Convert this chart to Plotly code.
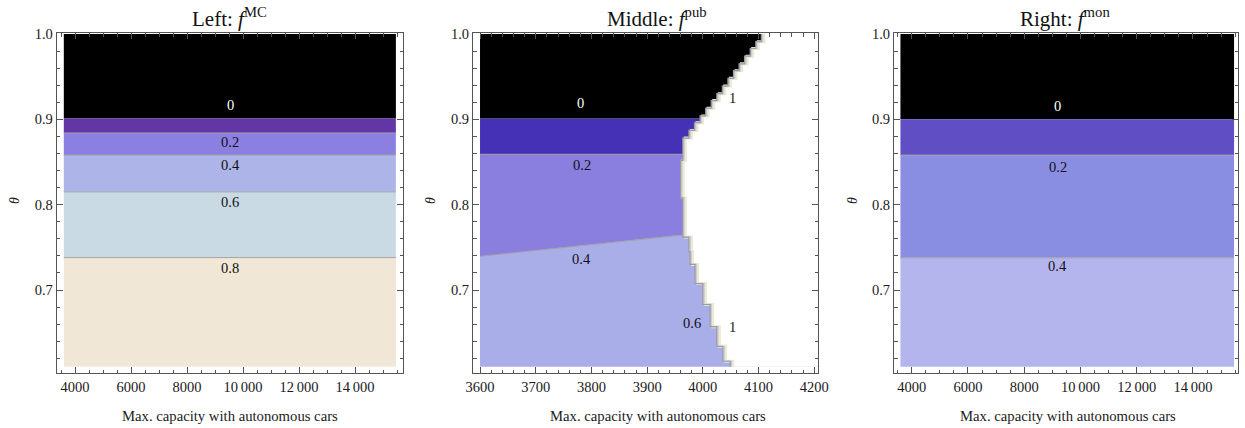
import plotly.graph_objects as go

# ------------------------------------------------------------------ data
theta_lo, theta_hi = 0.61, 1.0
cap_lo_lr, cap_hi_lr = 3600, 15460          # left / right panels
cap_lo_mid, cap_hi_mid = 3600, 4215         # middle panel

# Left: f^MC  (horizontal bands, edges in theta)
left_edges = [1.0, 0.901, 0.884, 0.858, 0.815, 0.738, 0.61]
left_colors = ["#000000", "#6236A6", "#8C7FE2", "#ADB4E8", "#C9DAE5", "#F0E7D6"]
left_lines = [0.884, 0.858, 0.815, 0.738]
left_labels = ["0", "0.2", "0.4", "0.6", "0.8"]
left_label_theta = [0.917, 0.873, 0.8465, 0.803, 0.726]

# Right: f^mon
right_edges = [1.0, 0.9, 0.858, 0.7377, 0.61]
right_colors = ["#000000", "#604EC4", "#8A8EE3", "#B5B5EE"]
right_lines = [0.858, 0.7377]
right_labels = ["0", "0.2", "0.4"]
right_label_theta = [0.916, 0.8445, 0.728]

# Middle: f^pub
mid_black_lo = 0.901
mid_blue_lo = 0.859
mid_colors = {"black": "#000000", "blue": "#4431B6", "b02": "#8A7EDE", "b04": "#A9AEE8"}
# boundary between 0.2 and 0.4 regions
mid_split_cap = [3600, 3947, 3975]
mid_split_theta = [0.7395, 0.7638, 0.765]
# staircase limit of the f^pub = 1 region: cap_i holds between theta_i and theta_{i+1}
mid_step_theta = [1.000, 0.991, 0.983, 0.974, 0.965, 0.957, 0.948, 0.939, 0.930, 0.922,
                  0.913, 0.904, 0.896, 0.887, 0.878, 0.852, 0.808, 0.762, 0.745, 0.730,
                  0.7075, 0.683, 0.657, 0.634, 0.6165, 0.610]
mid_step_cap = [4105, 4095, 4085, 4075, 4065, 4055, 4045, 4035, 4025, 4015,
                4005, 3995, 3985, 3975, 3964, 3960, 3964, 3975, 3977, 3986,
                4000, 4013, 4025, 4036, 4049]
mid_labels = ["0", "1", "0.2", "0.4", "0.6", "1"]
mid_label_cap = [3781, 4054, 3783, 3783, 3980, 4053]
mid_label_theta = [0.919, 0.925, 0.846, 0.736, 0.661, 0.6563]

left_xticks = [4000, 6000, 8000, 10000, 12000, 14000]
left_xticktext = ["4000", "6000", "8000", "10\u2009000", "12\u2009000", "14\u2009000"]
mid_xticks = [3600, 3700, 3800, 3900, 4000, 4100, 4200]

titles = ["Left: <i>f</i><sup>MC</sup>", "Middle: <i>f</i><sup>pub</sup>", "Right: <i>f</i><sup>mon</sup>"]
xtitle = "Max. capacity with autonomous cars"

# ------------------------------------------------------------------ figure
W, H = 1245, 428
FONT = "Liberation Serif"
FRAME = "#555555"
GRAY = "#A3A3A3"

dom_x = [(56.7 / W, 403.3 / W), (473 / W, 818 / W), (894 / W, 1238 / W)]
dom_y = (1 - 373.3 / H, 1 - 33.3 / H)
xranges = [(3346, 15725), (3587.4, 4206.7), (3371, 15600)]
yrange = (0.6024, 1.0008)

fig = go.Figure()


def poly(xs, ys, color, xa, ya):
    fig.add_trace(go.Scatter(x=xs, y=ys, fill="toself", fillcolor=color, mode="none",
                             hoverinfo="skip", showlegend=False, xaxis=xa, yaxis=ya))


def line(xs, ys, color, width, xa, ya):
    fig.add_trace(go.Scatter(x=xs, y=ys, mode="lines", line=dict(color=color, width=width),
                             hoverinfo="skip", showlegend=False, xaxis=xa, yaxis=ya))


def bands(edges, colors, lines, xa, ya):
    for i, c in enumerate(colors):
        top, bot = edges[i], edges[i + 1]
        poly([cap_lo_lr, cap_hi_lr, cap_hi_lr, cap_lo_lr], [bot, bot, top, top], c, xa, ya)
    for t in lines:
        line([cap_lo_lr, cap_hi_lr], [t, t], GRAY, 1, xa, ya)


# left panel
bands(left_edges, left_colors, left_lines, "x", "y")
# right panel
bands(right_edges, right_colors, right_lines, "x3", "y3")

# middle panel
xa, ya = "x2", "y2"
poly([cap_lo_mid, cap_hi_mid, cap_hi_mid, cap_lo_mid],
     [theta_lo, theta_lo, mid_blue_lo, mid_blue_lo], mid_colors["b04"], xa, ya)
poly([cap_lo_mid, cap_hi_mid, cap_hi_mid] + mid_split_cap[::-1],
     [mid_blue_lo, mid_blue_lo, mid_split_theta[-1]] + mid_split_theta[::-1],
     mid_colors["b02"], xa, ya)
poly([cap_lo_mid, cap_hi_mid, cap_hi_mid, cap_lo_mid],
     [mid_blue_lo, mid_blue_lo, mid_black_lo, mid_black_lo], mid_colors["blue"], xa, ya)
poly([cap_lo_mid, cap_hi_mid, cap_hi_mid, cap_lo_mid],
     [mid_black_lo, mid_black_lo, theta_hi, theta_hi], mid_colors["black"], xa, ya)

line([cap_lo_mid, cap_hi_mid], [mid_blue_lo, mid_blue_lo], GRAY, 1, xa, ya)
line(mid_split_cap, mid_split_theta, GRAY, 1, xa, ya)

# staircase path: white f^pub = 1 region to its right
sx, sy = [], []
for i, c in enumerate(mid_step_cap):
    sx += [c, c]
    sy += [mid_step_theta[i], mid_step_theta[i + 1]]
poly([x + 1.0 for x in sx] + [cap_hi_mid + 20, cap_hi_mid + 20], sy + [theta_lo, theta_hi],
     "#FFFFFF", xa, ya)
line([x + 4.5 for x in sx], sy, "#EFE6D3", 3.0, xa, ya)
line([x + 2.2 for x in sx], sy, "#C3CED6", 1.4, xa, ya)
line(sx, sy, "#9C9C9C", 1.2, xa, ya)

# ------------------------------------------------------------------ axes
tickfont = dict(family=FONT, size=14.5, color="#1a1a1a")
for k in range(3):
    sfx = "" if k == 0 else str(k + 1)
    xd = dict(domain=dom_x[k], range=xranges[k], showgrid=False, zeroline=False,
              showline=True, linecolor=FRAME, linewidth=1, mirror="allticks",
              ticks="inside", ticklen=6, tickwidth=1, tickcolor=FRAME, tickfont=tickfont,
              anchor="y" + sfx, automargin=False)
    if k == 1:
        xd.update(tickmode="array", tickvals=mid_xticks, ticktext=[str(v) for v in mid_xticks],
                  minor=dict(tickmode="linear", tick0=0, dtick=20, ticks="inside",
                             ticklen=3.5, tickcolor=FRAME))
    else:
        xd.update(tickmode="array", tickvals=left_xticks, ticktext=left_xticktext,
                  minor=dict(tickmode="linear", tick0=0, dtick=500, ticks="inside",
                             ticklen=3.5, tickcolor=FRAME))
    yd = dict(domain=dom_y, range=yrange, showgrid=False, zeroline=False,
              showline=True, linecolor=FRAME, linewidth=1, mirror="allticks",
              ticks="inside", ticklen=6, tickwidth=1, tickcolor=FRAME, tickfont=tickfont,
              tickmode="linear", tick0=0.7, dtick=0.1, tickformat=".1f",
              minor=dict(tickmode="linear", tick0=0.0, dtick=0.02, ticks="inside",
                         ticklen=3.5, tickcolor=FRAME),
              anchor="x" + sfx, automargin=False)
    fig.layout["xaxis" + sfx] = xd
    fig.layout["yaxis" + sfx] = yd

# ------------------------------------------------------------------ annotations
ann = []
title_x = [229, 657, 1065]
axis_title_x = [230, 658, 1068]
theta_x = [14, 430, 852]
for k in range(3):
    ann.append(dict(text=titles[k], x=title_x[k] / W, y=1 - 17 / H, xref="paper", yref="paper",
                    showarrow=False, xanchor="center", yanchor="middle",
                    font=dict(family=FONT, size=21, color="#111111")))
    ann.append(dict(text=xtitle, x=axis_title_x[k] / W, y=1 - 415.7 / H, xref="paper",
                    yref="paper", showarrow=False, xanchor="center", yanchor="middle",
                    font=dict(family=FONT, size=14.7, color="#1a1a1a")))
    ann.append(dict(text="<i>θ</i>", x=theta_x[k] / W, y=1 - 201 / H, xref="paper",
                    yref="paper", showarrow=False, xanchor="center", yanchor="middle",
                    textangle=-90, font=dict(family=FONT, size=14, color="#1a1a1a")))

lab_font = dict(family=FONT, size=14.5, color="#111111")
for i, t in enumerate(left_labels):
    f = dict(lab_font, color="#FFFFFF") if t == "0" else lab_font
    ann.append(dict(text=t, x=9540, y=left_label_theta[i], xref="x", yref="y",
                    showarrow=False, font=f))
for i, t in enumerate(right_labels):
    f = dict(lab_font, color="#FFFFFF") if t == "0" else lab_font
    ann.append(dict(text=t, x=9200, y=right_label_theta[i], xref="x3", yref="y3",
                    showarrow=False, font=f))
for i, t in enumerate(mid_labels):
    f = dict(lab_font, color="#FFFFFF") if (t == "0") else lab_font
    ann.append(dict(text=t, x=mid_label_cap[i], y=mid_label_theta[i], xref="x2", yref="y2",
                    showarrow=False, font=f))

fig.update_layout(width=W, height=H, margin=dict(l=0, r=0, t=0, b=0, autoexpand=False),
                  paper_bgcolor="white", plot_bgcolor="white", annotations=ann,
                  showlegend=False)

fig.write_html("out.html", config={"displayModeBar": False},
               post_script="document.body.style.margin='0';document.body.style.overflow='hidden';")
